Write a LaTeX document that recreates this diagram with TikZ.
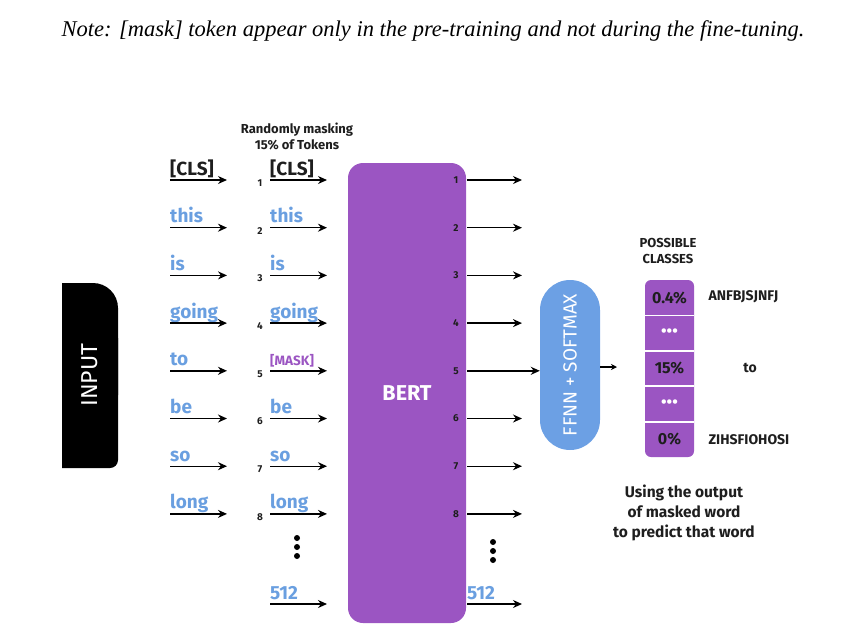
\documentclass[tikz,border=0pt]{standalone}
\usepackage{fontspec}
\usepackage{graphicx}
\setmainfont{Liberation Serif}
\newfontfamily\dinfont{Fira Sans}
\usetikzlibrary{arrows.meta,positioning}
\definecolor{bertpurple}{HTML}{9B55C2}
\definecolor{tokblue}{HTML}{6A9FE0}
\definecolor{ffnnblue}{HTML}{6CA0E4}
\definecolor{inkdark}{HTML}{1E1E1E}
\newcommand{\rowy}[1]{180+(#1-1)*47.7}

\begin{document}
\begin{tikzpicture}[x=1pt,y=-1pt]
  \tikzstyle{connect}=[-{Stealth[length=9pt,width=8pt]}, line width=1.4pt]
  \tikzstyle{word}=[font=\dinfont\bfseries\fontsize{19}{19}\selectfont, anchor=base west, inner sep=0pt]
  \tikzstyle{idx}=[font=\dinfont\bfseries\fontsize{10}{10}\selectfont, text=inkdark, inner sep=0pt]
  \tikzstyle{caption}=[font=\dinfont\bfseries\fontsize{13}{16}\selectfont, text=inkdark, align=center]
  \useasboundingbox (0,0) rectangle (841,638);

  \node[font=\itshape\fontsize{22.5}{22.5}\selectfont] (note) at (433,31) {Note: [mask] token appear only in the pre-training and not during the fine-tuning.};

  % input block
  \begin{scope}
    \clip (62,270) rectangle (130,480);
    \fill[rounded corners=25pt] (30,283) rectangle (118,420);
    \fill[rounded corners=8pt] (30,330) rectangle (118,468);
  \end{scope}
  \node[text=white, font=\dinfont\fontsize{23}{23}\selectfont] (input) at (90,375) {\rotatebox{90}{INPUT}};

  % input tokens
  \foreach \w/\c [count=\i] in {{[CLS]}/inkdark, this/tokblue, is/tokblue, going/tokblue, to/tokblue, be/tokblue, so/tokblue, long/tokblue} {
    \coordinate (a\i) at (170,{\rowy{\i}});
    \coordinate (b\i) at (227,{\rowy{\i}});
    \node[word, text=\c] (w\i) at ([yshift=5pt]a\i) {\w};
    \draw[connect] (a\i) -- (b\i);
  }

  % masked tokens
  \node[caption] (mhead) at (297,136) {Randomly masking\\15\% of Tokens};
  \foreach \w/\c/\s [count=\i] in {{[CLS]}/inkdark/19, this/tokblue/19, is/tokblue/19, going/tokblue/19, {[MASK]}/bertpurple/13.5, be/tokblue/19, so/tokblue/19, long/tokblue/19} {
    \coordinate (m\i) at (270,{\rowy{\i}});
    \coordinate (n\i) at (327,{\rowy{\i}});
    \node[idx] (k\i) at (260,{\rowy{\i}+3}) {\i};
    \node[word, text=\c, font=\dinfont\bfseries\fontsize{\s}{\s}\selectfont] (t\i) at ([yshift=5pt]m\i) {\w};
    \draw[connect] (m\i) -- (n\i);
  }
  \foreach \d in {538,547,556} \fill (297,\d) circle (3);
  \coordinate (m9) at (270,604);
  \coordinate (n9) at (327,604);
  \node[word, text=tokblue] (t9) at ([yshift=5pt]m9) {512};
  \draw[connect] (m9) -- (n9);

  % bert
  \node[fill=bertpurple, rounded corners=15pt, minimum width=118, minimum height=460, text=white, font=\dinfont\bfseries\fontsize{21.5}{21.5}\selectfont] (bert) at (407,393) {BERT};
  \foreach \i in {1,...,8} {
    \node[idx] (h\i) at (456,{\rowy{\i}}) {\i};
    \coordinate (o\i) at (467,{\rowy{\i}});
    \coordinate (p\i) at (522,{\rowy{\i}});
  }
  \foreach \i in {1,2,3,4,6,7,8} \draw[connect] (o\i) -- (p\i);
  \foreach \d in {542,551,560} \fill (493,\d) circle (3);
  \coordinate (o9) at (467,604);
  \coordinate (p9) at (522,604);
  \node[word, text=tokblue] (h9) at ([yshift=5pt]o9) {512};
  \draw[connect] (o9) -- (p9);

  % classifier
  \node[fill=ffnnblue, rounded corners=30pt, minimum width=60, minimum height=170, text=white, font=\dinfont\fontsize{19}{19}\selectfont] (ffnn) at (570,365) {\rotatebox{90}{FFNN + SOFTMAX}};
  \draw[connect] (o5) -- (ffnn.west |- o5);
  \coordinate (sm) at (617,367);
  \draw[-{Stealth[length=6pt,width=6pt]}, line width=1.2pt] (ffnn.east |- sm) -- (sm);

  \node[caption] (phead) at (668,251) {POSSIBLE\\CLASSES};
  \node[fill=bertpurple, rounded corners=6pt, minimum width=49, minimum height=177] (classes) at (669.5,368.5) {};
  \foreach \y in {315.4,350.8,386.2,421.6}
    \draw[white, line width=1.8pt] (classes.west |- 0,\y) -- (classes.east |- 0,\y);
  \foreach \t/\c [count=\k] in {0.4\%/inkdark, \textbullet\textbullet\textbullet/white, 15\%/inkdark, \textbullet\textbullet\textbullet/white, 0\%/inkdark}
    \node[text=\c, font=\dinfont\bfseries\fontsize{16}{16}\selectfont] (c\k) at (669.5,{280+35.4*(\k-0.5)}) {\t};

  \node[caption, anchor=west, font=\dinfont\bfseries\fontsize{14}{14}\selectfont] (cls1) at (705,297) {ANFBJSJNFJ};
  \node[caption, font=\dinfont\bfseries\fontsize{14}{14}\selectfont] (cls2) at (750,368) {to};
  \node[caption, anchor=west, font=\dinfont\bfseries\fontsize{14}{14}\selectfont] (cls3) at (705,440) {ZIHSFIOHOSI};

  \node[caption, font=\dinfont\bfseries\fontsize{15.5}{20}\selectfont] (useit) at (684,513) {Using the output\\of masked word\\to predict that word};
\end{tikzpicture}
\end{document}
